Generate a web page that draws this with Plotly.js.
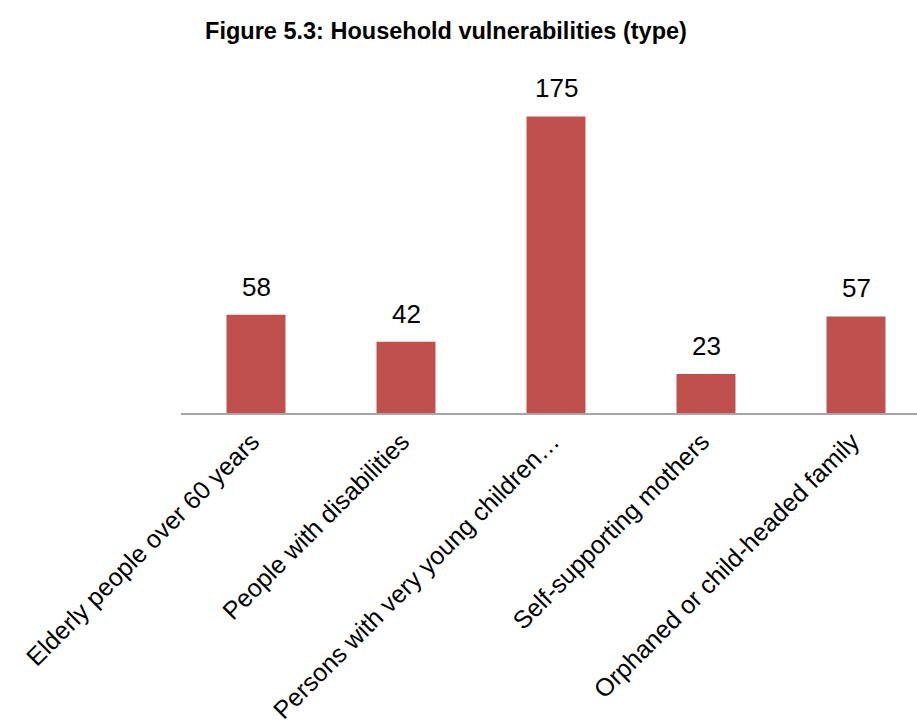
<!DOCTYPE html>
<html>
<head>
<meta charset="utf-8">
<script src="https://cdn.plot.ly/plotly-3.0.1.min.js"></script>
<style>html,body{margin:0;padding:0;background:#fff;}#chart{width:917px;height:722px;}</style>
</head>
<body>
<div id="chart"></div>
<script>
const categories = [
  "Elderly people over 60 years",
  "People with disabilities",
  "Persons with very young children…",
  "Self-supporting mothers",
  "Orphaned or child-headed family"
];
const values = [58, 42, 175, 23, 57];
const barColor = "#C0504D";
const titleText = "Figure 5.3: Household vulnerabilities (type)";

const trace = {
  type: "bar",
  x: categories,
  y: values,
  marker: {color: barColor},
  hoverinfo: "x+y"
};

const annotations = categories.map((c, i) => ({
  x: c, y: values[i], xref: "x", yref: "y",
  text: String(values[i]), showarrow: false,
  yanchor: "bottom", yshift: 11,
  font: {family: "Liberation Sans, Arial, sans-serif", size: 26, color: "#000"}
}));

const layout = {
  width: 917, height: 722,
  margin: {l: 181, r: 0, t: 74, b: 309, pad: 0},
  paper_bgcolor: "#fff", plot_bgcolor: "#fff",
  bargap: 0.607,
  showlegend: false,
  title: {
    text: "<b>" + titleText + "</b>",
    font: {family: "Liberation Sans, Arial, sans-serif", size: 23.5, color: "#000"},
    x: 0.4864, xref: "container", xanchor: "center",
    y: 0.958, yref: "container", yanchor: "middle"
  },
  xaxis: {
    range: [-0.5, 4.4067],
    tickangle: -45,
    tickfont: {family: "Liberation Sans, Arial, sans-serif", size: 25, color: "#000"},
    ticklabelstandoff: 2,
    ticklabelshift: -4,
    showline: true, linecolor: "#A6A6A6", linewidth: 2,
    ticks: "", showgrid: false, zeroline: false
  },
  yaxis: {
    range: [0, 200],
    visible: false, showgrid: false, zeroline: false
  },
  annotations: annotations
};

Plotly.newPlot("chart", [trace], layout, {displayModeBar: false, staticPlot: true});
</script>
</body>
</html>
